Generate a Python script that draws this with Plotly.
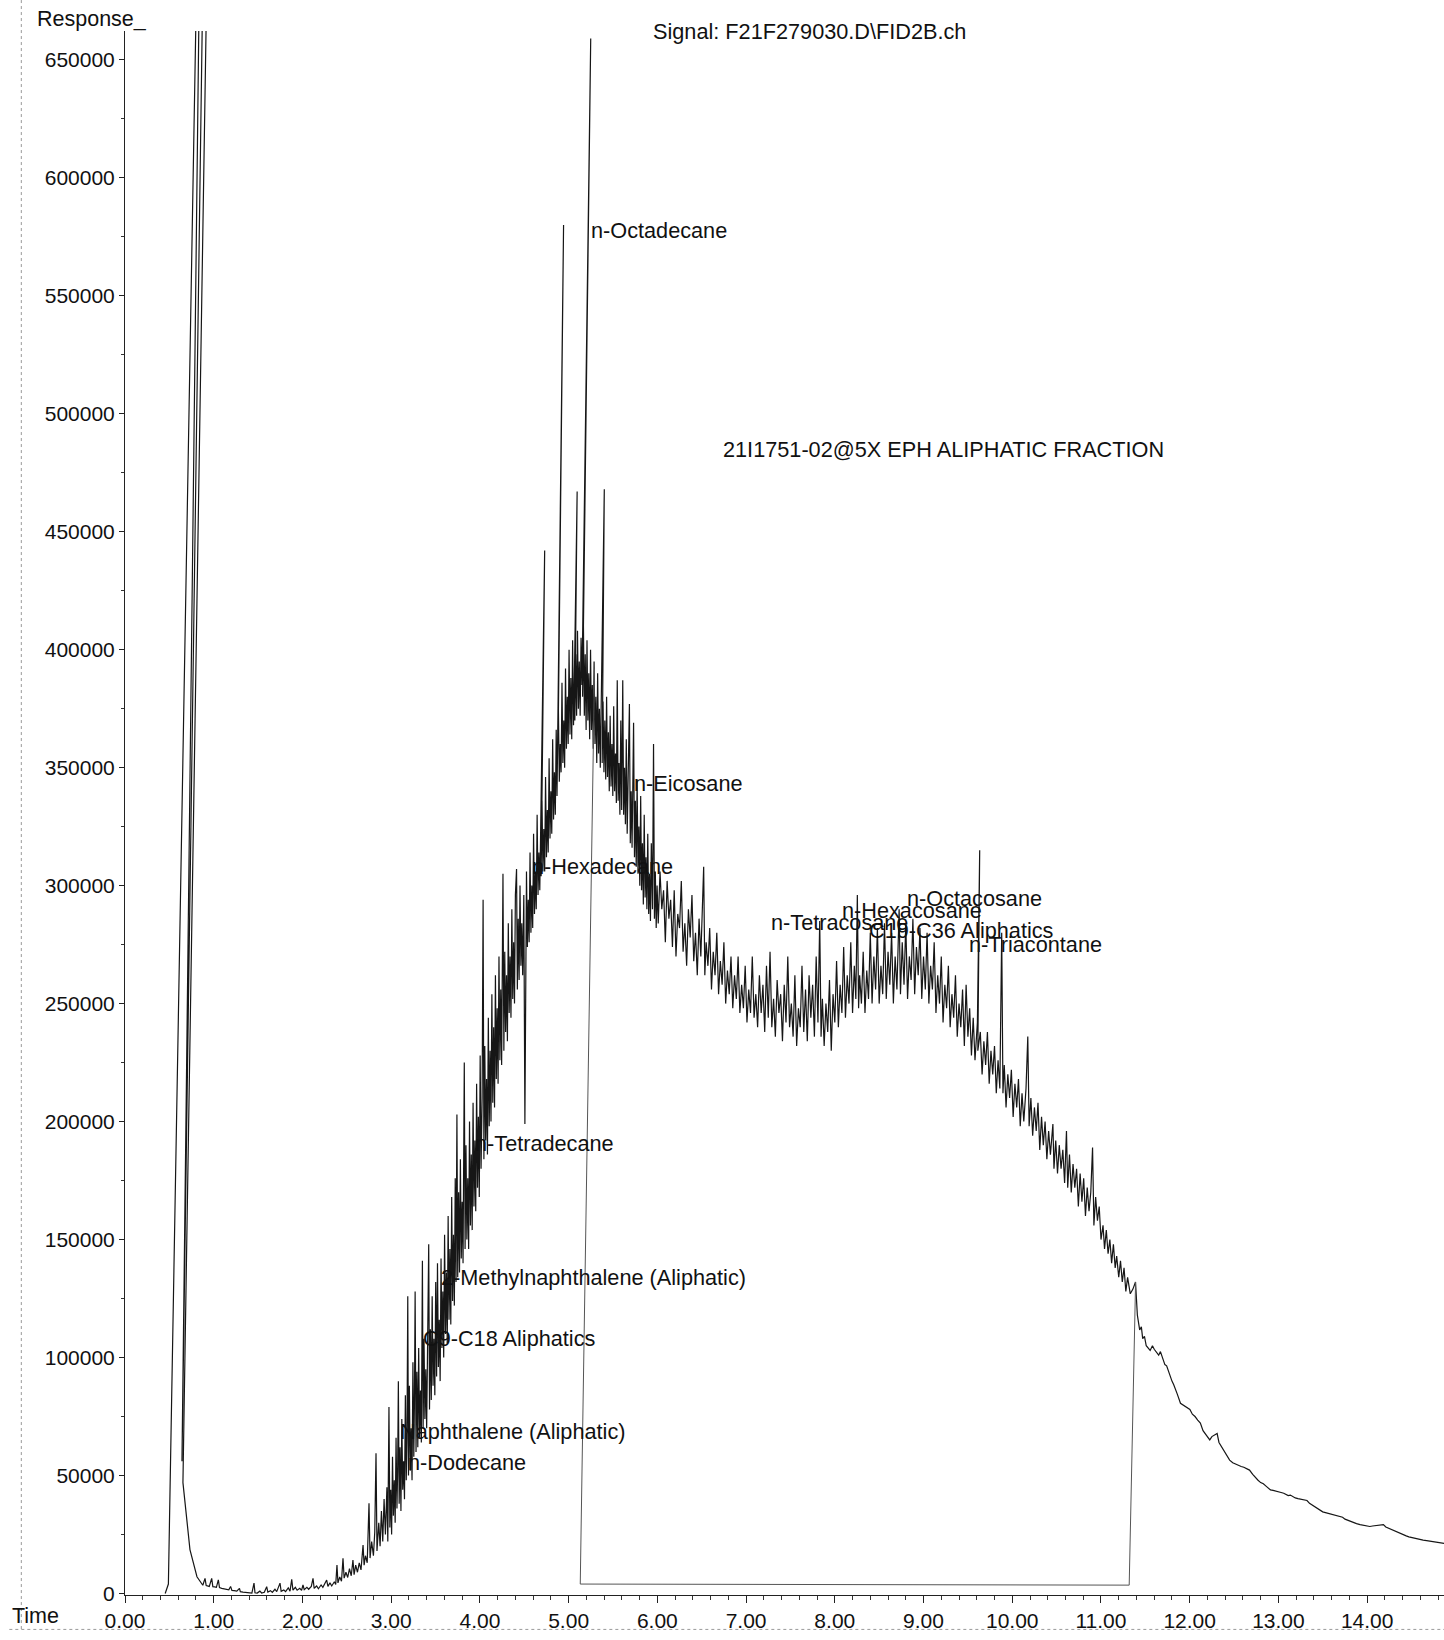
import plotly.graph_objects as go

# ---------------- data: retention time (min), response (x1000 counts) ----------------
solvent = [(0.453, 0), (0.489, 4), (0.81, 690), (0.84, 690), (0.642, 56), (0.88, 690),
           (0.925, 690), (0.653, 47), (0.732, 18.6), (0.811, 7.1), (0.877, 3.5)]

early = [(0.902, 6.4), (0.915, 3.4), (0.93, 3.2), (0.95, 3.0), (0.977, 6.4), (0.99, 2.9),
         (1.01, 2.8), (1.03, 2.6), (1.052, 5.8), (1.065, 2.5), (1.09, 2.2), (1.12, 2.0),
         (1.15, 1.8), (1.17, 1.6), (1.19, 3.0), (1.205, 1.3), (1.23, 1.2), (1.26, 1.0),
         (1.29, 2.2), (1.30, 0.8), (1.33, 0.6), (1.37, 0.4), (1.40, 0.3), (1.43, 0.2),
         (1.454, 4.4), (1.465, 0.3), (1.49, 0.2), (1.52, 1.0), (1.54, 0.2), (1.57, 0.5),
         (1.597, 2.9), (1.61, 0.6), (1.64, 1.2), (1.66, 0.5), (1.69, 1.8), (1.71, 0.8),
         (1.747, 4.4), (1.76, 0.9), (1.79, 1.5), (1.81, 0.8), (1.84, 2.4), (1.86, 1.0),
         (1.879, 6.0), (1.893, 1.4), (1.92, 2.6), (1.94, 1.4), (1.97, 2.2), (1.99, 1.3),
         (2.006, 3.6), (2.02, 1.6), (2.05, 2.6), (2.07, 1.8), (2.10, 3.0), (2.119, 6.4),
         (2.132, 2.2), (2.16, 3.2), (2.18, 2.0), (2.21, 3.6), (2.23, 2.6), (2.25, 4.0),
         (2.273, 5.7), (2.287, 3.0), (2.31, 4.5), (2.33, 3.2), (2.36, 5.0), (2.375, 3.8),
         (2.389, 12.1), (2.40, 4.5), (2.42, 7.0), (2.44, 5.2), (2.457, 14.9), (2.47, 6.5),
         (2.49, 9.0), (2.51, 6.8), (2.53, 10.5), (2.55, 7.5), (2.569, 14.2), (2.582, 8.0),
         (2.60, 12.0), (2.62, 9.0), (2.64, 13.0), (2.66, 10.0), (2.683, 20.5), (2.695, 12.0),
         (2.71, 16.0), (2.73, 13.0), (2.750, 38.2), (2.762, 15.0), (2.78, 22.0), (2.80, 16.0),
         (2.815, 26.0), (2.829, 59.4), (2.84, 18.0), (2.86, 30.0), (2.875, 20.0), (2.89, 35.0),
         (2.905, 22.0), (2.92, 40.0), (2.935, 25.0), (2.952, 45.0)]

hump = [(2.962, 22), (2.975, 79), (2.985, 28), (2.995, 44), (3.005, 25), (3.015, 58),
        (3.025, 33), (3.035, 48), (3.045, 30), (3.055, 66), (3.065, 36), (3.073, 52),
        (3.081, 90), (3.09, 38), (3.10, 62), (3.11, 35), (3.12, 74), (3.13, 44), (3.14, 56),
        (3.15, 40), (3.16, 84), (3.17, 48), (3.178, 66), (3.187, 126), (3.195, 50),
        (3.205, 88), (3.215, 52), (3.225, 70), (3.235, 48), (3.245, 98), (3.255, 58),
        (3.262, 80), (3.27, 128), (3.28, 60), (3.29, 94), (3.30, 62), (3.31, 104), (3.32, 66),
        (3.33, 86), (3.34, 64), (3.352, 141), (3.36, 70), (3.37, 108), (3.38, 74), (3.39, 95),
        (3.40, 70), (3.41, 120), (3.423, 148), (3.432, 78), (3.442, 112), (3.452, 82),
        (3.462, 126), (3.472, 88), (3.482, 108), (3.492, 84), (3.502, 132), (3.512, 92),
        (3.522, 140), (3.532, 96), (3.542, 116), (3.552, 90), (3.562, 142), (3.572, 104),
        (3.582, 128), (3.592, 100), (3.602, 152), (3.612, 110), (3.622, 136), (3.632, 106),
        (3.642, 160), (3.652, 116), (3.662, 146), (3.672, 114), (3.682, 168), (3.692, 124),
        (3.702, 152), (3.712, 122), (3.722, 176), (3.731, 132), (3.741, 203), (3.75, 134),
        (3.76, 170), (3.77, 136), (3.78, 184), (3.79, 142), (3.80, 166), (3.81, 140),
        (3.824, 225), (3.833, 146), (3.843, 190), (3.853, 150), (3.863, 176), (3.873, 146),
        (3.883, 200), (3.893, 156), (3.903, 186), (3.913, 154), (3.923, 208), (3.933, 164),
        (3.943, 192), (3.953, 162), (3.963, 216), (3.973, 172), (3.983, 202), (3.993, 168),
        (4.003, 228), (4.013, 180), (4.025, 210), (4.036, 294), (4.045, 184), (4.055, 232),
        (4.065, 192), (4.075, 218), (4.085, 186), (4.095, 244), (4.105, 198), (4.115, 230),
        (4.125, 200), (4.135, 254), (4.145, 208), (4.155, 240), (4.165, 206), (4.175, 262),
        (4.185, 218), (4.195, 248), (4.205, 216), (4.215, 270), (4.225, 226), (4.235, 256),
        (4.245, 224), (4.26, 305), (4.27, 230), (4.28, 272), (4.29, 238), (4.30, 262),
        (4.31, 234), (4.32, 284), (4.33, 246), (4.34, 270), (4.35, 244), (4.36, 290),
        (4.37, 252), (4.38, 276), (4.39, 250), (4.40, 296), (4.413, 307), (4.422, 256),
        (4.432, 286), (4.442, 260), (4.452, 300), (4.462, 266), (4.472, 284), (4.482, 262),
        (4.495, 296), (4.507, 199), (4.515, 270), (4.525, 306), (4.535, 274), (4.545, 294),
        (4.555, 276), (4.565, 314), (4.575, 280), (4.585, 300), (4.595, 282), (4.605, 322),
        (4.615, 288), (4.625, 306), (4.635, 290), (4.645, 330), (4.655, 296), (4.665, 314),
        (4.675, 298), (4.684, 322), (4.730, 442), (4.69, 304), (4.70, 336), (4.71, 306),
        (4.72, 324), (4.73, 306), (4.74, 346), (4.75, 312), (4.76, 332), (4.77, 314),
        (4.78, 354), (4.79, 320), (4.80, 340), (4.81, 322), (4.82, 362), (4.83, 328),
        (4.84, 348), (4.85, 330), (4.86, 366), (4.869, 338), (4.943, 580), (4.875, 342),
        (4.885, 374), (4.895, 344), (4.905, 360), (4.915, 348), (4.925, 386), (4.935, 352),
        (4.945, 370), (4.955, 350), (4.965, 392), (4.975, 358), (4.985, 380), (4.995, 360),
        (5.005, 400), (5.015, 364), (5.025, 388), (5.035, 362), (5.045, 404), (5.055, 368),
        (5.064, 386), (5.096, 467), (5.07, 370), (5.08, 398), (5.09, 372), (5.10, 408),
        (5.11, 375), (5.12, 395), (5.13, 372), (5.14, 405), (5.15, 385), (5.249, 659),
        (5.157, 380), (5.167, 410), (5.177, 372), (5.187, 398), (5.197, 366), (5.207, 404),
        (5.217, 370), (5.227, 390), (5.237, 362), (5.247, 400), (5.257, 366), (5.267, 385),
        (5.277, 358), (5.287, 395), (5.297, 360), (5.307, 380), (5.317, 352), (5.327, 390),
        (5.337, 356), (5.347, 375), (5.357, 350), (5.372, 385), (5.402, 468), (5.378, 352),
        (5.388, 378), (5.398, 348), (5.408, 370), (5.418, 345), (5.428, 380), (5.438, 346),
        (5.448, 365), (5.458, 340), (5.468, 372), (5.478, 342), (5.488, 360), (5.498, 338),
        (5.508, 376), (5.518, 340), (5.528, 356), (5.538, 335), (5.548, 387), (5.558, 336),
        (5.568, 352), (5.578, 330), (5.588, 370), (5.598, 332), (5.61, 387), (5.62, 330),
        (5.63, 350), (5.64, 326), (5.65, 362), (5.66, 322), (5.67, 345), (5.685, 377),
        (5.695, 318), (5.705, 340), (5.715, 316), (5.732, 369), (5.742, 312), (5.752, 336),
        (5.762, 308), (5.772, 345), (5.782, 305), (5.792, 325), (5.802, 300), (5.812, 338),
        (5.822, 298), (5.832, 318), (5.842, 292), (5.852, 330), (5.862, 295), (5.872, 312),
        (5.882, 290), (5.892, 322), (5.902, 288), (5.912, 305), (5.922, 285), (5.932, 318),
        (5.945, 290), (5.957, 360), (5.967, 286), (5.977, 306), (5.987, 282), (5.997, 300)]

plateau = [(6.01, 284), (6.03, 306), (6.05, 290), (6.07, 298), (6.09, 276), (6.11, 302),
           (6.13, 286), (6.15, 294), (6.17, 274), (6.19, 298), (6.21, 270), (6.23, 288),
           (6.25, 282), (6.27, 302), (6.29, 272), (6.31, 284), (6.33, 266), (6.35, 290),
           (6.37, 278), (6.39, 296), (6.41, 268), (6.43, 280), (6.45, 262), (6.47, 286),
           (6.49, 270), (6.505, 292), (6.522, 308), (6.535, 262), (6.55, 276), (6.57, 266),
           (6.59, 282), (6.61, 256), (6.63, 272), (6.65, 262), (6.67, 280), (6.69, 254),
           (6.71, 268), (6.73, 258), (6.75, 276), (6.77, 250), (6.79, 264), (6.81, 254),
           (6.83, 270), (6.85, 248), (6.87, 262), (6.89, 252), (6.91, 270), (6.93, 246),
           (6.95, 258), (6.97, 248), (6.99, 266), (7.01, 242), (7.03, 256), (7.05, 246),
           (7.07, 270), (7.09, 244), (7.11, 254), (7.13, 240), (7.15, 262), (7.17, 246),
           (7.19, 258), (7.21, 238), (7.23, 266), (7.25, 244), (7.27, 272), (7.29, 240),
           (7.31, 252), (7.33, 236), (7.35, 260), (7.37, 246), (7.39, 254), (7.41, 234),
           (7.43, 258), (7.45, 242), (7.47, 270), (7.49, 240), (7.51, 250), (7.53, 236),
           (7.55, 262), (7.57, 232), (7.59, 248), (7.61, 240), (7.63, 266), (7.65, 238),
           (7.67, 256), (7.69, 234), (7.71, 262), (7.73, 244), (7.75, 258), (7.77, 236),
           (7.79, 270), (7.81, 242), (7.83, 285), (7.845, 236), (7.86, 252), (7.88, 232),
           (7.90, 250), (7.92, 238), (7.94, 260), (7.96, 230), (7.98, 254), (8.00, 242),
           (8.02, 268), (8.04, 240), (8.06, 258), (8.08, 246), (8.10, 274), (8.12, 244),
           (8.14, 262), (8.16, 250), (8.18, 276), (8.20, 246), (8.22, 266), (8.237, 252),
           (8.254, 296), (8.268, 248), (8.28, 262), (8.30, 250), (8.32, 272), (8.34, 246),
           (8.36, 264), (8.38, 252), (8.40, 280), (8.42, 250), (8.44, 270), (8.46, 256),
           (8.48, 282), (8.50, 250), (8.52, 266), (8.54, 254), (8.56, 284), (8.58, 252),
           (8.60, 272), (8.62, 258), (8.64, 280), (8.66, 250), (8.68, 270), (8.70, 256),
           (8.725, 290), (8.74, 254), (8.76, 276), (8.78, 258), (8.80, 284), (8.82, 252),
           (8.84, 270), (8.86, 260), (8.88, 286), (8.90, 254), (8.92, 274), (8.94, 262),
           (8.96, 282), (8.98, 252), (9.00, 270), (9.02, 256), (9.04, 280), (9.06, 250),
           (9.08, 266), (9.10, 256), (9.12, 276), (9.14, 246), (9.16, 262), (9.18, 250),
           (9.20, 270), (9.22, 242), (9.24, 258), (9.26, 248), (9.28, 266), (9.30, 240),
           (9.32, 254), (9.34, 244), (9.36, 262), (9.38, 236), (9.40, 250), (9.42, 240),
           (9.44, 256), (9.46, 232), (9.48, 258), (9.50, 236), (9.52, 248), (9.54, 228),
           (9.56, 244), (9.58, 226), (9.607, 242), (9.633, 315), (9.612, 230), (9.64, 238),
           (9.66, 220), (9.68, 234), (9.70, 224), (9.72, 238), (9.74, 216), (9.76, 230),
           (9.78, 220), (9.80, 232), (9.82, 212), (9.84, 226), (9.86, 214), (9.881, 280),
           (9.895, 212), (9.91, 224), (9.93, 206), (9.95, 220), (9.97, 210), (9.99, 222),
           (10.01, 202), (10.03, 216), (10.05, 206), (10.07, 218), (10.09, 198), (10.11, 212),
           (10.13, 200), (10.155, 214), (10.175, 236), (10.19, 198), (10.21, 210), (10.23, 194),
           (10.25, 206), (10.27, 196), (10.29, 208), (10.31, 188), (10.33, 202), (10.35, 190),
           (10.37, 200), (10.39, 184), (10.41, 196), (10.43, 186), (10.458, 199), (10.47, 180),
           (10.49, 192), (10.51, 178), (10.53, 190), (10.55, 180), (10.57, 188), (10.59, 174),
           (10.611, 196), (10.625, 172), (10.645, 186), (10.665, 170), (10.685, 182),
           (10.705, 172), (10.725, 180), (10.745, 164), (10.765, 178), (10.785, 166),
           (10.805, 176), (10.825, 160), (10.845, 172), (10.865, 162), (10.885, 170),
           (10.905, 189), (10.92, 156), (10.94, 168), (10.96, 158), (10.98, 164), (11.00, 150),
           (11.023, 156), (11.04, 146), (11.06, 154), (11.08, 144), (11.10, 150), (11.12, 140),
           (11.14, 148), (11.16, 138), (11.177, 143), (11.20, 134), (11.22, 141), (11.24, 132),
           (11.26, 138), (11.28, 128), (11.30, 134), (11.33, 127), (11.36, 129), (11.389, 132)]

tail = [(11.41, 118), (11.436, 111.7), (11.455, 113), (11.47, 108), (11.49, 109), (11.51, 105),
        (11.554, 103), (11.58, 105), (11.60, 103.5), (11.63, 102), (11.65, 101), (11.67, 102.5),
        (11.695, 100), (11.72, 97), (11.74, 96.5), (11.778, 91.7), (11.80, 90), (11.82, 88.5),
        (11.84, 86), (11.86, 84.5), (11.896, 80.6), (11.92, 80), (11.95, 79), (11.98, 78.5),
        (12.002, 78), (12.03, 76), (12.06, 75), (12.09, 73.5), (12.12, 72.2), (12.15, 69),
        (12.17, 68), (12.20, 66), (12.226, 65.1), (12.25, 66.5), (12.27, 67), (12.29, 67.5),
        (12.309, 67.8), (12.33, 64), (12.36, 62), (12.39, 60), (12.42, 58), (12.45, 56.5),
        (12.485, 55.4), (12.52, 54.8), (12.55, 54), (12.58, 53.8), (12.61, 53.5), (12.64, 52.8),
        (12.674, 52.3), (12.71, 50.5), (12.74, 49), (12.77, 48), (12.80, 47), (12.83, 46.5),
        (12.86, 45.5), (12.89, 44.5), (12.91, 43.9), (12.94, 43.7), (12.97, 43.5), (13.00, 43),
        (13.03, 42.8), (13.06, 42.5), (13.08, 42.2), (13.11, 41.5), (13.134, 41.7), (13.16, 41),
        (13.19, 40.5), (13.22, 40.2), (13.25, 40), (13.29, 39.8), (13.322, 39.4), (13.35, 38.2),
        (13.38, 37.5), (13.41, 36.5), (13.44, 35.8), (13.47, 35.2), (13.499, 34.6), (13.53, 34.3),
        (13.56, 34), (13.59, 33.5), (13.62, 33.2), (13.65, 33), (13.68, 32.8), (13.70, 32.5),
        (13.723, 32.3), (13.75, 31.5), (13.78, 31), (13.81, 30.5), (13.85, 30), (13.88, 29.6),
        (13.92, 29.2), (13.96, 28.8), (14.00, 28.5), (14.03, 28.4), (14.06, 28.6), (14.10, 28.8),
        (14.14, 29), (14.183, 29.2), (14.21, 28.2), (14.25, 27.5), (14.29, 26.8), (14.33, 26),
        (14.37, 25.4), (14.407, 24.8), (14.44, 24.4), (14.47, 24), (14.51, 23.6), (14.55, 23.2),
        (14.59, 22.9), (14.631, 22.6), (14.67, 22.4), (14.70, 22.2), (14.74, 22), (14.78, 21.8),
        (14.82, 21.5), (14.855, 21.3), (14.87, 21.2)]

# integration baseline box (start edge, baseline, end edge)
box_time = [5.292, 5.131, 11.318, 11.39]
box_resp = [392000, 4000, 3545, 132000]

# peak labels
peak_names = ["n-Octadecane", "n-Eicosane", "n-Hexadecane", "n-Tetracosane", "n-Hexacosane",
              "n-Octacosane", "C19-C36 Aliphatics", "n-Triacontane", "n-Tetradecane",
              "2-Methylnaphthalene (Aliphatic)", "C9-C18 Aliphatics", "Naphthalene (Aliphatic)",
              "n-Dodecane"]
peak_time = [5.226, 5.709, 4.566, 7.253, 8.054, 8.796, 8.360, 9.491, 3.918, 3.541, 3.340, 3.081, 3.164]
peak_resp = [577800, 343400, 308000, 284500, 289400, 294700, 280900, 275200, 190500, 133800,
             108100, 68700, 55400]

x_ticks = [0, 1, 2, 3, 4, 5, 6, 7, 8, 9, 10, 11, 12, 13, 14]
y_ticks = [0, 50000, 100000, 150000, 200000, 250000, 300000, 350000, 400000, 450000, 500000,
           550000, 600000, 650000]

segments = solvent + early + hump + plateau + tail
time = [p[0] for p in segments]
resp = [p[1] * 1000 for p in segments]

FONT = "Liberation Sans, Arial, Helvetica, sans-serif"
INK = "#111111"

fig = go.Figure()
fig.add_trace(go.Scatter(x=time, y=resp, mode="lines",
                         line=dict(color="#161616", width=1.2),
                         hoverinfo="skip", showlegend=False))
fig.add_trace(go.Scatter(x=box_time, y=box_resp, mode="lines",
                         line=dict(color="#555555", width=1),
                         hoverinfo="skip", showlegend=False))

annotations = []
for name, t, r in zip(peak_names, peak_time, peak_resp):
    annotations.append(dict(x=t, y=r, xref="x", yref="y", text=name, showarrow=False,
                            xanchor="left", yanchor="middle",
                            font=dict(family=FONT, size=21.7, color=INK)))

annotations += [
    dict(x=-0.0682, y=1.0077, xref="paper", yref="paper", text="Response_", showarrow=False,
         xanchor="left", yanchor="middle", font=dict(family=FONT, size=21.5, color=INK)),
    dict(x=-0.0872, y=-0.0134, xref="paper", yref="paper", text="Time", showarrow=False,
         xanchor="left", yanchor="middle", font=dict(family=FONT, size=21.5, color=INK)),
    dict(x=0.3988, y=1.0, xref="paper", yref="paper", text="Signal: F21F279030.D\\FID2B.ch",
         showarrow=False, xanchor="left", yanchor="middle",
         font=dict(family=FONT, size=21.7, color=INK)),
    dict(x=0.4519, y=0.7327, xref="paper", yref="paper",
         text="21I1751-02@5X EPH ALIPHATIC FRACTION", showarrow=False,
         xanchor="left", yanchor="middle", font=dict(family=FONT, size=21.7, color=INK)),
]

shapes = [
    dict(type="line", xref="paper", yref="paper", x0=-0.0786, x1=-0.0786, y0=1.0198, y1=-0.022,
         line=dict(color="#9a9a9a", width=1, dash="dot")),
    dict(type="line", xref="paper", yref="paper", x0=-0.0877, x1=1.0, y0=-0.022, y1=-0.022,
         line=dict(color="#9a9a9a", width=1, dash="dot")),
]

fig.update_layout(
    width=1444, height=1640,
    margin=dict(l=125, r=0, t=31, b=45, autoexpand=False),
    paper_bgcolor="white", plot_bgcolor="white",
    showlegend=False,
    annotations=annotations,
    shapes=shapes,
    font=dict(family=FONT, size=21, color=INK),
)
fig.update_xaxes(
    range=[0, 14.866], tickvals=x_ticks, ticktext=[f"{v:.2f}" for v in x_ticks],
    ticks="outside", ticklen=7, tickwidth=1, tickcolor="#222",
    minor=dict(dtick=0.2, ticks="outside", ticklen=4, tickcolor="#333", tickwidth=1),
    showline=True, linecolor="#222", linewidth=1, showgrid=False, zeroline=False,
    tickfont=dict(family=FONT, size=21, color=INK), automargin=False,
)
fig.update_yaxes(
    range=[-636, 662187], tickvals=y_ticks, ticktext=[str(v) for v in y_ticks],
    ticks="outside", ticklen=5, tickwidth=1, tickcolor="#222",
    minor=dict(dtick=25000, ticks="outside", ticklen=3, tickcolor="#333", tickwidth=1),
    showline=True, linecolor="#222", linewidth=1, showgrid=False, zeroline=False,
    tickfont=dict(family=FONT, size=21, color=INK), automargin=False,
)

fig.write_html("out.html",
               config={"displayModeBar": False, "staticPlot": True},
               post_script="document.body.style.margin='0px';document.body.style.padding='0px';")
